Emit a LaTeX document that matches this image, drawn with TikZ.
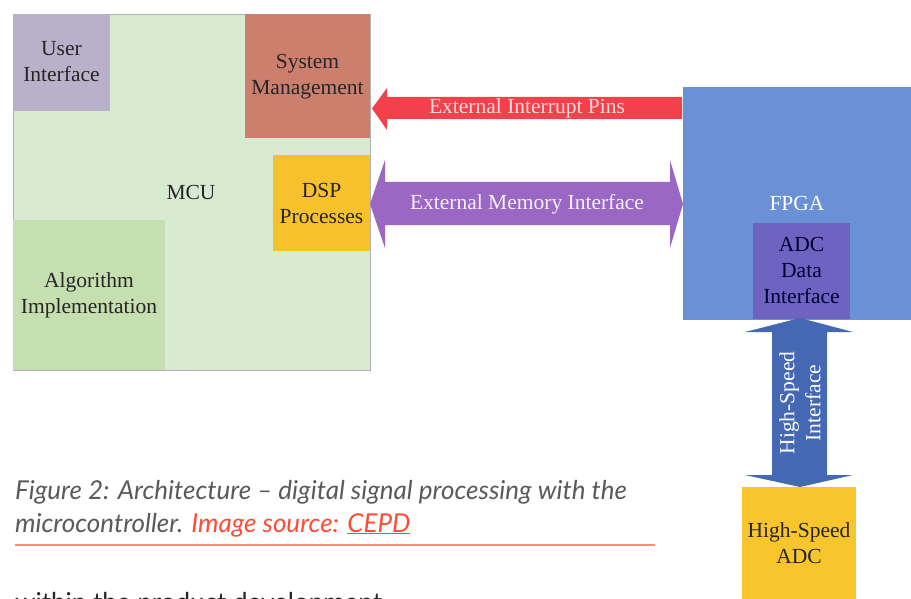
\documentclass[tikz,border=0pt]{standalone}
\usepackage{fontspec}
\setmainfont{Liberation Serif}
\newfontfamily\capfont{Lato}
\usetikzlibrary{calc}
\definecolor{mcugreen}{HTML}{D9EAD3}
\definecolor{uigray}{HTML}{B9B1C9}
\definecolor{sysred}{HTML}{CD7F6E}
\definecolor{dspgold}{HTML}{F6C12B}
\definecolor{algogreen}{HTML}{C5DFB1}
\definecolor{irqred}{HTML}{F2414B}
\definecolor{mempurple}{HTML}{9A67C4}
\definecolor{fpgablue}{HTML}{6A90D5}
\definecolor{adcviolet}{HTML}{6F63C2}
\definecolor{hsblue}{HTML}{4568B5}
\definecolor{adcgold}{HTML}{F8C52C}
\definecolor{captiongray}{HTML}{5A5A5A}
\definecolor{linkred}{HTML}{FF4A36}
\definecolor{rulered}{HTML}{FF8A78}
\tikzset{
  block/.style={inner sep=0pt, align=center, font=\fontsize{21.5}{26}\selectfont, text=black!85},
  label/.style={inner sep=0pt, align=center, font=\fontsize{21.5}{26}\selectfont},
  captext/.style={anchor=base west, inner sep=0pt, font=\capfont\itshape\fontsize{26}{30}\selectfont, text=captiongray},
}
\begin{document}
\begin{tikzpicture}[x=1pt,y=-1pt]
\useasboundingbox (0,0) rectangle (911,599);
\fill[white] (0,0) rectangle (911,599);

% MCU and its blocks
\draw[draw=black!30, fill=mcugreen] (13,14) rectangle (370,370);
\node[block] (mcu) at (191,192) {MCU};
\fill[uigray] (13,14) rectangle (110,111);
\node[block] (ui) at (61.5,62) {User\\Interface};
\fill[sysred] (245,14) rectangle (370,138);
\node[block] (sys) at (307.5,77) {System\\Management};
\fill[dspgold] (273,155) rectangle (370,251);
\node[block] (dsp) at (321.5,203) {DSP\\Processes};
\fill[algogreen] (13,220) rectangle (165,370);
\node[block] (algo) at (89,295) {Algorithm\\Implementation};

% FPGA and its ADC data interface
\fill[fpgablue] (683,87) rectangle (911,320);
\node[label, text=white] (fpga) at (797,203) {FPGA};
\fill[adcviolet] (753,223) rectangle (850,319);
\node[block, text=black!80!blue] (adci) at (801.5,270) {ADC\\Data\\Interface};

% High-speed ADC
\fill[adcgold] (742,487) rectangle (856,599);
\node[block] (adc) at (799,543) {High-Speed\\ADC};

% External interrupt arrow (FPGA -> system management)
\fill[irqred] (682,97) -- (387,97) -- (387,88) -- (372,108.5) -- (387,130) -- (387,119) -- (682,119) -- cycle;
\node[label, text=red!15] (irq) at (527,108) {External Interrupt Pins};

% External memory interface (bidirectional)
\fill[mempurple] (370,204) -- (385,160) -- (385,182) -- (670,182) -- (670,160) -- (683,204)
  -- (670,248) -- (670,225) -- (385,225) -- (385,248) -- cycle;
\node[label, text=white!90!mempurple] (mem) at (527,204) {External Memory Interface};

% High-speed interface (bidirectional, vertical)
\fill[hsblue] (800,318) -- (853,332) -- (827,332) -- (827,475) -- (853,475) -- (800,487)
  -- (745,475) -- (772,475) -- (772,332) -- (745,332) -- cycle;
\node[label, text=white, rotate=90] (hsi) at (800,403) {High-Speed\\Interface};

% Caption
\node[captext] (cap1) at (15,499) {Figure 2: Architecture – digital signal processing with the};
\node[captext] (cap2) at (15,532) {microcontroller. \textcolor{linkred}{Image source: \underline{CEPD}}};
\draw[rulered, line width=1.3pt] (15,545) -- (655,545);

% Body text continuing below (cut at the page edge)
\begin{scope}
\clip (0,560) rectangle (911,599);
\node[anchor=base west, inner sep=0pt, font=\capfont\fontsize{26}{30}\selectfont, text=black!85] (body) at (15,611) {within the product development};
\end{scope}
\end{tikzpicture}
\end{document}
